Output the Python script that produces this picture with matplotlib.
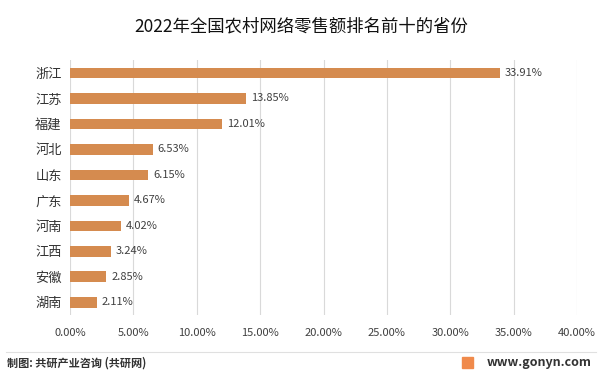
import matplotlib.pyplot as plt
import matplotlib.patches as mpatches

plt.rcParams['font.family'] = ['Noto Sans CJK SC', 'DejaVu Sans']

provinces = ['浙江', '江苏', '福建', '河北', '山东', '广东', '河南', '江西', '安徽', '湖南']
shares = [33.91, 13.85, 12.01, 6.53, 6.15, 4.67, 4.02, 3.24, 2.85, 2.11]
xticks = [0, 5, 10, 15, 20, 25, 30, 35, 40]

fig = plt.figure(figsize=(6.02, 3.76), dpi=100)
ax = fig.add_axes([0.1163, 0.162, 0.8422, 0.678])

ypos = list(range(len(provinces)))
ax.barh(ypos, shares, height=0.42, color='#D58B4F', zorder=3)
for y, v in zip(ypos, shares):
    ax.text(v + 0.4, y, f'{v:.2f}%', va='center', ha='left', fontsize=8, color='#404040')

ax.set_ylim(len(provinces) - 0.5, -0.5)
ax.set_xlim(0, 40)
ax.set_yticks(ypos)
ax.set_yticklabels(provinces, fontsize=9.5, color='#333333')
ax.set_xticks(xticks)
ax.set_xticklabels([f'{t:.2f}%' for t in xticks], fontsize=8, color='#404040')
ax.tick_params(axis='both', length=0)
ax.tick_params(axis='x', pad=9)
ax.tick_params(axis='y', pad=6)
ax.grid(axis='x', color='#d9d9d9', linewidth=0.8, zorder=0)
for s in ax.spines.values():
    s.set_visible(False)

fig.text(0.5, 0.93, '2022年全国农村网络零售额排名前十的省份', ha='center', va='center',
         fontsize=12.5, color='#111111')

# footer
fig.add_artist(plt.Line2D([0.01, 0.99], [0.063, 0.063], color='#e0e0e0', linewidth=0.8))
fig.text(0.012, 0.035, '制图: 共研产业咨询 (共研网)', ha='left', va='center',
         fontsize=8, color='#333333', fontweight='bold')
fig.text(0.983, 0.035, 'www.gonyn.com', ha='right', va='center',
         fontsize=9, color='#333333', fontweight='bold')
fig.add_artist(mpatches.Rectangle((0.768, 0.022), 0.018, 0.028, color='#F08A4B',
                                  transform=fig.transFigure))

fig.savefig('out.png', dpi=100)
